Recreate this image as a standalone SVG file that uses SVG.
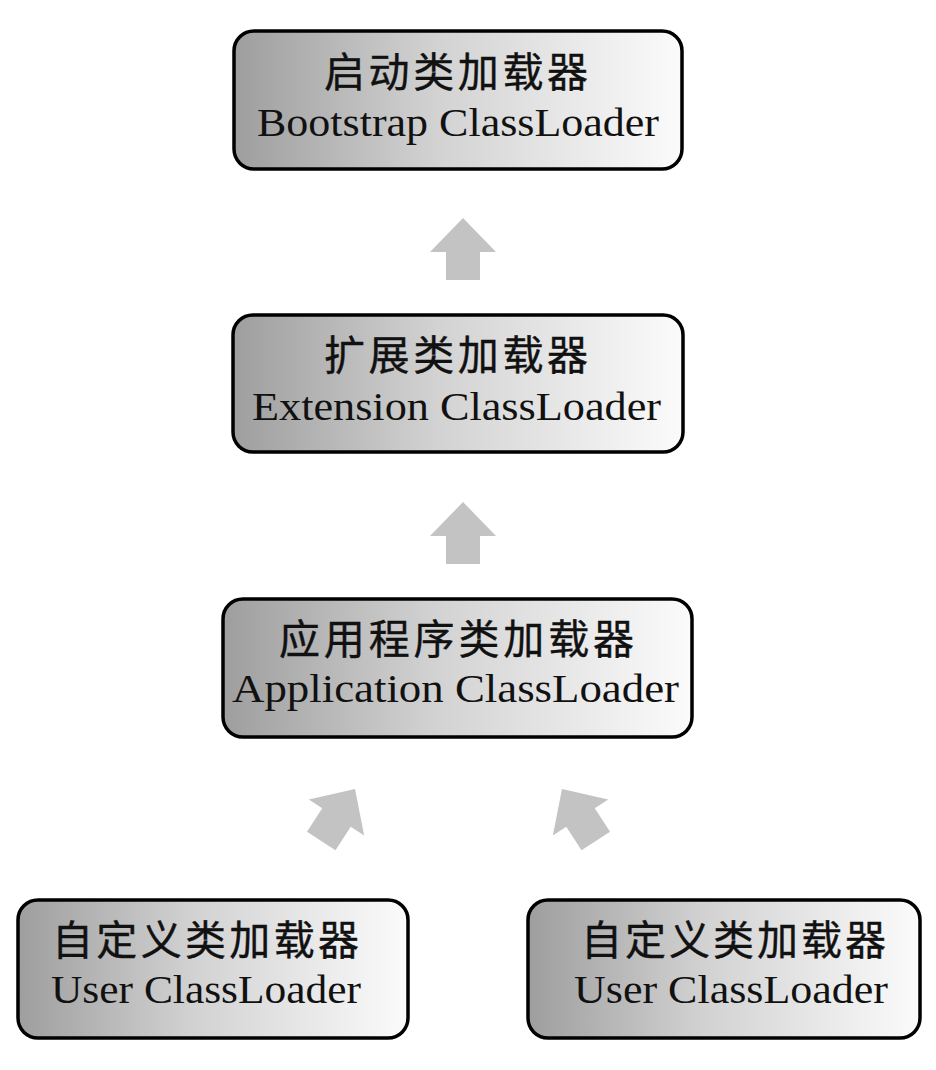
<svg xmlns="http://www.w3.org/2000/svg" width="936" height="1070" viewBox="0 0 936 1070">
  <defs>
    <linearGradient id="boxFill" x1="0" y1="0" x2="1" y2="0">
      <stop offset="0" stop-color="#9e9e9e"/>
      <stop offset="0.45" stop-color="#d2d2d2"/>
      <stop offset="1" stop-color="#fbfbfb"/>
    </linearGradient>
    <!-- block arrow, tip at origin, pointing up -->
    <polygon id="blockArrow" points="0,0 33,34 17,34 17,62 -17,62 -17,34 -33,34"/>
    <style>
      .box { fill: url(#boxFill); stroke: #000; stroke-width: 3.5; }
      .zh { font-family: "Liberation Serif", "Noto Sans CJK SC", serif; font-size: 41px; fill: #111; stroke: #111; stroke-width: 0.4; }
      .en { font-family: "Liberation Serif", "Noto Sans CJK SC", serif; font-size: 41px; fill: #111; }
      .arrow { fill: #c3c3c3; }
    </style>
  </defs>
  <rect width="936" height="1070" fill="#fff"/>

  <g id="connectors">
    <use href="#blockArrow" class="arrow" transform="translate(463,218)"/>
    <use href="#blockArrow" class="arrow" transform="translate(463,502)"/>
    <use href="#blockArrow" class="arrow" transform="translate(355,789) rotate(33)"/>
    <use href="#blockArrow" class="arrow" transform="translate(562,789) rotate(-33)"/>
  </g>

  <g id="bootstrap">
    <rect class="box" x="234" y="31" width="448" height="138" rx="20"/>
    <text class="zh" x="324" y="87" textLength="264" lengthAdjust="spacing">启动类加载器</text>
    <text class="en" x="257" y="136" textLength="402" lengthAdjust="spacingAndGlyphs">Bootstrap ClassLoader</text>
  </g>

  <g id="extension">
    <rect class="box" x="233" y="315" width="450" height="137" rx="20"/>
    <text class="zh" x="324" y="370" textLength="264" lengthAdjust="spacing">扩展类加载器</text>
    <text class="en" x="252" y="420" textLength="409" lengthAdjust="spacingAndGlyphs">Extension ClassLoader</text>
  </g>

  <g id="application">
    <rect class="box" x="223" y="599" width="469" height="138" rx="20"/>
    <text class="zh" x="279" y="654" textLength="355" lengthAdjust="spacing">应用程序类加载器</text>
    <text class="en" x="232" y="702" textLength="447" lengthAdjust="spacingAndGlyphs">Application ClassLoader</text>
  </g>

  <g id="user-left">
    <rect class="box" x="18" y="900" width="390" height="138" rx="20"/>
    <text class="zh" x="52" y="955" textLength="307" lengthAdjust="spacing">自定义类加载器</text>
    <text class="en" x="51" y="1003" textLength="310" lengthAdjust="spacingAndGlyphs">User ClassLoader</text>
  </g>

  <g id="user-right">
    <rect class="box" x="528" y="900" width="392" height="138" rx="20"/>
    <text class="zh" x="581" y="955" textLength="305" lengthAdjust="spacing">自定义类加载器</text>
    <text class="en" x="574" y="1003" textLength="314" lengthAdjust="spacingAndGlyphs">User ClassLoader</text>
  </g>
</svg>
